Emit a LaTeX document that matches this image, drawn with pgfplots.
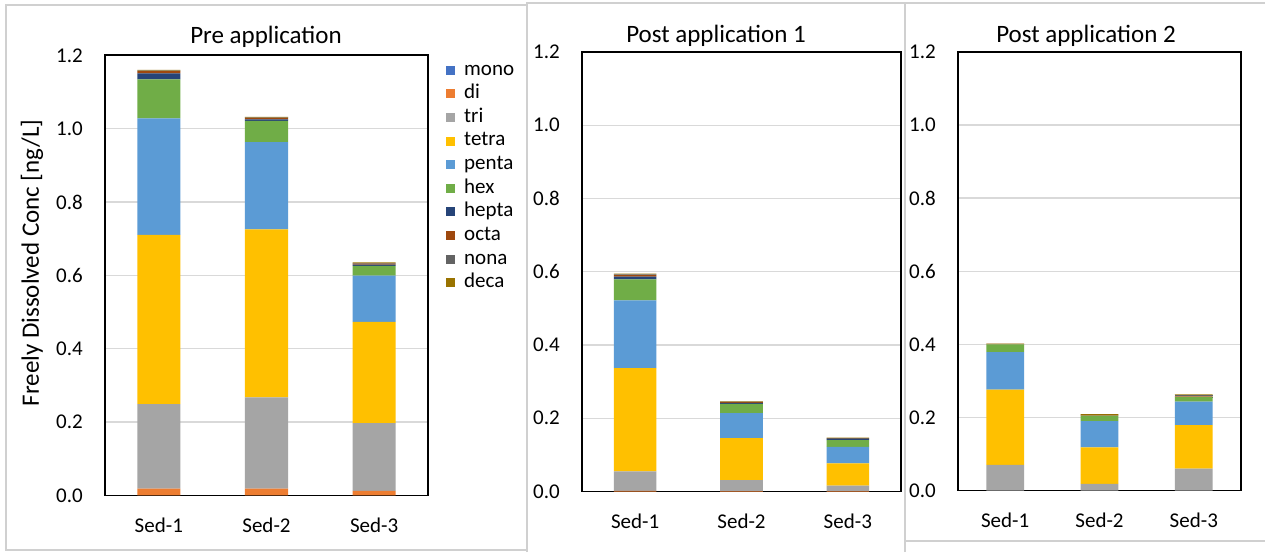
\documentclass[border=0pt]{standalone}
\usepackage{pgfplots}
\pgfplotsset{compat=1.18}
\usepackage{pgfplotstable}
\usepackage{fontspec}
\setmainfont{Carlito}

\definecolor{cmono}{HTML}{4472C4}
\definecolor{cdi}{HTML}{ED7D31}
\definecolor{ctri}{HTML}{A5A5A5}
\definecolor{ctetra}{HTML}{FFC000}
\definecolor{cpenta}{HTML}{5B9BD5}
\definecolor{chex}{HTML}{70AD47}
\definecolor{chepta}{HTML}{264478}
\definecolor{cocta}{HTML}{9E480E}
\definecolor{cnona}{HTML}{636363}
\definecolor{cdeca}{HTML}{997300}
\definecolor{gridgray}{HTML}{D9D9D9}
\definecolor{framegray}{HTML}{D0D0D0}

\pgfplotstableread{
x mono di tri tetra penta hex hepta octa nona deca
0 0 0.018 0.231 0.461 0.318 0.106 0.017 0.006 0.001 0.002
1 0 0.018 0.249 0.458 0.238 0.058 0.004 0.004 0.001 0.002
2 0 0.012 0.185 0.276 0.126 0.027 0.003 0.003 0.001 0.002
}\pre
\pgfplotstableread{
x mono di tri tetra penta hex hepta octa nona deca
0 0 0.002 0.053 0.282 0.185 0.057 0.008 0.004 0.002 0.002
1 0 0.001 0.030 0.115 0.068 0.025 0.003 0.002 0.001 0.001
2 0 0.001 0.015 0.061 0.045 0.018 0.003 0.001 0.002 0.001
}\postA
\pgfplotstableread{
x mono di tri tetra penta hex hepta octa nona deca
0 0 0 0.070 0.206 0.103 0.021 0 0.001 0 0.001
1 0 0 0.018 0.100 0.072 0.015 0 0.002 0 0.002
2 0 0 0.060 0.119 0.064 0.013 0.001 0.001 0.003 0.002
}\postB

\pgfplotsset{
  panel/.style={
    ybar stacked, bar width=0.4, scale only axis, anchor=south west,
    xmin=-0.5, xmax=2.5, ymin=0, ymax=1.2,
    ytick={0,0.2,0.4,0.6,0.8,1.0,1.2},
    xtick={0,1,2}, xticklabels={Sed-1,Sed-2,Sed-3},
    major tick length=0pt,
    ymajorgrids, grid style={draw=gridgray, line width=1.4pt},
    axis line style={line width=1.6pt},
    tick label style={font=\fontsize{21}{25}\selectfont},
    yticklabel style={inner sep=0pt, xshift=-22pt,
      /pgf/number format/fixed, /pgf/number format/fixed zerofill,
      /pgf/number format/precision=1, /pgf/number format/assume math mode=true},
    xticklabel style={inner sep=0pt, yshift=-22pt},
  }
}

\begin{document}
\begin{tikzpicture}[x=1pt,y=1pt]
\useasboundingbox[fill=white] (0,0) rectangle (1265,552);
\draw[framegray, line width=1.2pt] (6,2) rectangle (527,547);
\draw[framegray, line width=1.2pt] (527,0) -- (527,549) -- (905,549);
\draw[framegray, line width=1.2pt] (905,0) -- (905,549) -- (1265,549);
\draw[framegray, line width=1.2pt] (905,11) -- (1265,11);

\node[font=\fontsize{25}{30}\selectfont] at (266,515) {Pre application};
\node[font=\fontsize{25}{30}\selectfont] at (716,516) {Post application 1};
\node[font=\fontsize{25}{30}\selectfont] at (1086,516) {Post application 2};
\node[rotate=90, font=\fontsize{25}{30}\selectfont] at (32,289) {Freely Dissolved Conc [ng/L]};

\begin{axis}[panel, at={(105pt,56.7pt)}, width=323pt, height=440pt,
  legend style={at={(1.0464,0.9916)}, anchor=north west, draw=none, fill=none,
    font=\fontsize{21}{25}\selectfont, row sep=5.6pt, column sep=9pt,
    nodes={inner sep=0pt, text height=14pt, text depth=4pt}},
  legend cell align=left,
  legend image code/.code={\fill[#1] (0pt,-4.5pt) rectangle (9pt,4.5pt);}]
\pgfplotsinvokeforeach{mono,di,tri,tetra,penta,hex,hepta,octa,nona,deca}{
  \addplot[fill=c#1, draw=none] table[x=x, y=#1] {\pre};
}
\legend{mono,di,tri,tetra,penta,hex,hepta,octa,nona,deca}
\end{axis}

\begin{axis}[panel, at={(582pt,60.5pt)}, width=319pt, height=439.5pt]
\pgfplotsinvokeforeach{mono,di,tri,tetra,penta,hex,hepta,octa,nona,deca}{
  \addplot[fill=c#1, draw=none] table[x=x, y=#1] {\postA};
}
\end{axis}

\begin{axis}[panel, at={(958pt,61.5pt)}, width=283pt, height=438.5pt]
\pgfplotsinvokeforeach{mono,di,tri,tetra,penta,hex,hepta,octa,nona,deca}{
  \addplot[fill=c#1, draw=none] table[x=x, y=#1] {\postB};
}
\end{axis}
\end{tikzpicture}
\end{document}
